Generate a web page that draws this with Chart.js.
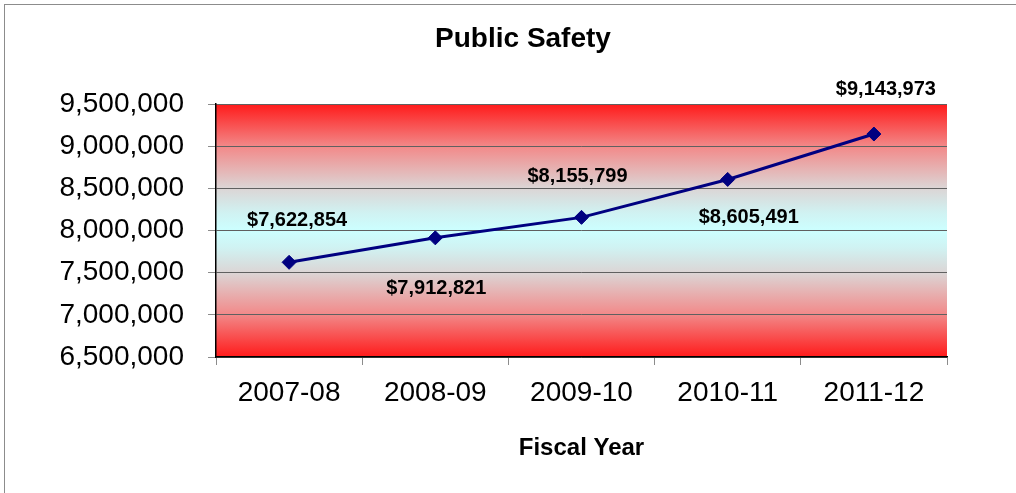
<!DOCTYPE html>
<html>
<head>
<meta charset="utf-8">
<script src="https://cdn.jsdelivr.net/npm/chart.js@4"></script>
<style>
    html, body { margin: 0; padding: 0; background: #fff; }
    #wrap { width: 1016px; height: 493px; }
</style>
</head>
<body>
<div id="wrap"><canvas id="safetyChart" width="1016" height="493"></canvas></div>
<script>
// chart data
const fiscalYears = ["2007-08", "2008-09", "2009-10", "2010-11", "2011-12"];
const spending = [7622854, 7912821, 8155799, 8605491, 9143973];
const yTickValues = [6500000, 7000000, 7500000, 8000000, 8500000, 9000000, 9500000];
const chartTitle = "Public Safety";

const fontFamily = "'Liberation Sans', Arial, Helvetica, sans-serif";

document.addEventListener("DOMContentLoaded", function () {

    // white page, grey frame, the red / cyan band behind the plot and the title
    const backgroundPlugin = {
        id: "background",
        beforeDraw(chart, args, opts) {
            const ctx = chart.ctx;
            const area = chart.chartArea;
            ctx.save();
            ctx.fillStyle = "#ffffff";
            ctx.fillRect(0, 0, chart.width, chart.height);

            ctx.strokeStyle = "#8c8c8c";
            ctx.lineWidth = 1;
            ctx.strokeRect(4.5, 4.5, chart.width + 20, chart.height + 20);

            const grad = ctx.createLinearGradient(0, area.top, 0, area.bottom);
            grad.addColorStop(0, "#ff1a1a");
            grad.addColorStop(0.17, "#f28a8a");
            grad.addColorStop(0.33, "#dcd4d4");
            grad.addColorStop(0.43, "#d0f2f2");
            grad.addColorStop(0.5, "#ccffff");
            grad.addColorStop(0.57, "#d0f2f2");
            grad.addColorStop(0.67, "#dcd4d4");
            grad.addColorStop(0.83, "#f28a8a");
            grad.addColorStop(1, "#ff1a1a");
            ctx.fillStyle = grad;
            ctx.fillRect(area.left, area.top, area.right - area.left, area.bottom - area.top);

            // title centred on the whole frame, not on the plot
            ctx.fillStyle = "#000";
            ctx.font = "bold 28px " + fontFamily;
            ctx.textAlign = "center";
            ctx.textBaseline = "middle";
            ctx.fillText(opts.title, opts.titleX, opts.titleY);
            ctx.restore();
        }
    };

    // dollar labels next to each point
    const valueLabelPlugin = {
        id: "valueLabels",
        afterDatasetsDraw(chart, args, opts) {
            const ctx = chart.ctx;
            const meta = chart.getDatasetMeta(0);
            ctx.save();
            ctx.font = "bold 20px " + fontFamily;
            ctx.fillStyle = "#000";
            ctx.textAlign = "center";
            ctx.textBaseline = "middle";
            meta.data.forEach(function (pt, i) {
                const off = opts.offsets[i] || [0, -40];
                const text = "$" + spending[i].toLocaleString("en-US");
                ctx.fillText(text, pt.x + off[0], pt.y + off[1]);
            });
            ctx.restore();
        }
    };

    const ctx = document.getElementById("safetyChart").getContext("2d");

    new Chart(ctx, {
        type: "line",
        data: {
            labels: fiscalYears,
            datasets: [{
                label: chartTitle,
                data: spending,
                borderColor: "#000080",
                backgroundColor: "#000080",
                borderWidth: 3,
                tension: 0,
                pointStyle: "rectRot",
                pointRadius: 7,
                pointBorderWidth: 1,
                pointBackgroundColor: "#000080",
                pointBorderColor: "#000080"
            }]
        },
        options: {
            responsive: false,
            animation: false,
            layout: {
                padding: { left: 0, right: 69, top: 104, bottom: 0 }
            },
            scales: {
                x: {
                    offset: true,
                    afterFit(scale) { scale.height = 136; },
                    grid: {
                        offset: true,
                        drawOnChartArea: false,
                        tickLength: 8,
                        tickColor: "#8c8c8c"
                    },
                    border: { display: true, color: "#000", width: 1.5 },
                    ticks: {
                        color: "#000",
                        padding: 11,
                        font: { family: fontFamily, size: 28 }
                    },
                    title: {
                        display: true,
                        text: "Fiscal Year",
                        color: "#000",
                        padding: { top: 0, bottom: 30 },
                        font: { family: fontFamily, size: 24, weight: "bold" }
                    }
                },
                y: {
                    min: yTickValues[0],
                    max: yTickValues[yTickValues.length - 1],
                    afterFit(scale) { scale.width = 216; },
                    afterBuildTicks(scale) {
                        scale.ticks = yTickValues.map(v => ({ value: v }));
                    },
                    grid: {
                        color: "#606060",
                        lineWidth: 1,
                        tickLength: 8,
                        tickColor: "#8c8c8c"
                    },
                    border: { display: true, color: "#000", width: 1.5 },
                    ticks: {
                        color: "#000",
                        padding: 24,
                        font: { family: fontFamily, size: 28 },
                        callback: function (value) {
                            return Number(value).toLocaleString("en-US");
                        }
                    }
                }
            },
            plugins: {
                legend: { display: false },
                tooltip: { enabled: false },
                title: { display: false },
                background: { title: chartTitle, titleX: 523, titleY: 39 },
                valueLabels: {
                    offsets: [[8, -42], [1, 51], [-4, -41], [21, 38], [12, -45]]
                }
            }
        },
        plugins: [backgroundPlugin, valueLabelPlugin]
    });
});
</script>
</body>
</html>
